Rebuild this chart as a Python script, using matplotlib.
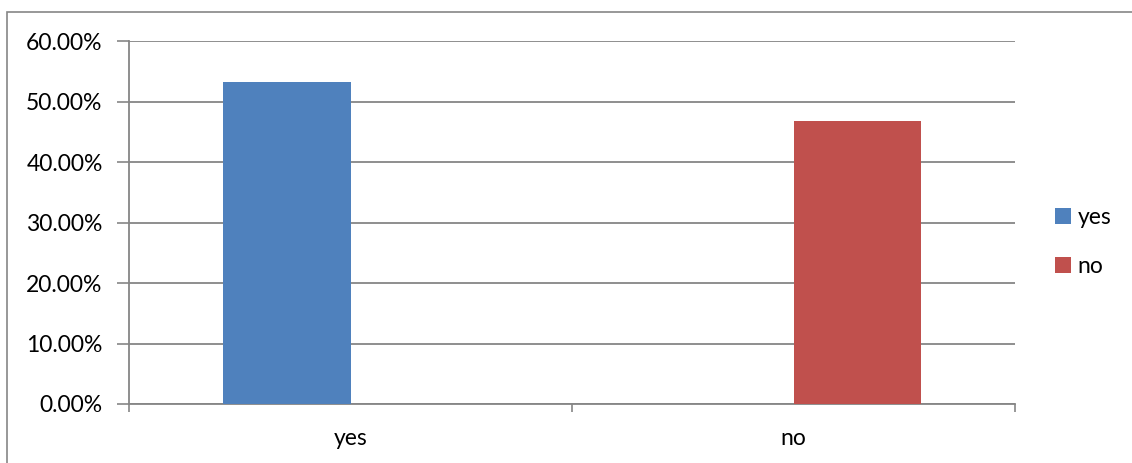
import matplotlib
matplotlib.use("Agg")
import matplotlib.pyplot as pyplot
import matplotlib.patches as patches
import matplotlib.ticker as ticker
import numpy

categories = ["yes", "no"]
series_names = ["yes", "no"]
# Share of answers per series, one value for each category.
yes_values = [53.2, 0.0]
no_values = [0.0, 46.8]
y_ticks = [0, 10, 20, 30, 40, 50, 60]

colors = {"yes": "#4F81BD", "no": "#C0504D"}
grey = "#868686"
font = "Lato"
font_size = 16.5

width_px, height_px = 1132, 463
figure = pyplot.figure(figsize=(width_px / 100, height_px / 100), dpi=100)

# Chart frame, cut off at the right and bottom edge.
frame = patches.Rectangle((7 / width_px, -0.1), 1.2, 1.1 - 12 / height_px,
    transform=figure.transFigure, fill=False, edgecolor=grey, linewidth=1.2)
figure.add_artist(frame)

axis = figure.add_axes([129 / width_px, 1 - 404 / height_px,
    (1015 - 129) / width_px, (404 - 41) / height_px])

x = numpy.arange(len(categories))
bar_width = 0.287
bars_yes = axis.bar(x - bar_width / 2, yes_values, bar_width,
    color=colors["yes"], label="yes", zorder=3)
bars_no = axis.bar(x + bar_width / 2, no_values, bar_width,
    color=colors["no"], label="no", zorder=3)

axis.set_xlim(-0.5, len(categories) - 0.5)
axis.set_ylim(0, 60)
axis.set_yticks(y_ticks)
axis.yaxis.set_major_formatter(ticker.FuncFormatter(
    lambda value, position: "{:.2f}%".format(value)))
axis.yaxis.grid(True, color=grey, linewidth=1.3, zorder=0)

# Category labels sit between the tick marks.
axis.set_xticks(numpy.arange(-0.5, len(categories)))
axis.set_xticklabels([])
axis.set_xticks(x, minor=True)
axis.set_xticklabels(categories, minor=True, fontsize=font_size, family=font)
axis.tick_params(axis="x", which="major", length=6, color=grey, width=1.2)
axis.tick_params(axis="x", which="minor", length=0, pad=17)
axis.tick_params(axis="y", length=9, color=grey, width=1.2, pad=10,
    labelsize=font_size)
for label in axis.get_yticklabels():
    label.set_family(font)

for side in ("top", "right"):
    axis.spines[side].set_visible(False)
for side in ("left", "bottom"):
    axis.spines[side].set_color(grey)
    axis.spines[side].set_linewidth(1.3)

legend = figure.legend(handles=[bars_yes, bars_no], labels=series_names,
    loc="center left", bbox_to_anchor=(1034 / width_px, 1 - 242 / height_px),
    frameon=False, handlelength=0.7, handleheight=0.7, handletextpad=0.3,
    labelspacing=1.2, prop={"family": font, "size": font_size})

pyplot.savefig("out.png", dpi=100)
